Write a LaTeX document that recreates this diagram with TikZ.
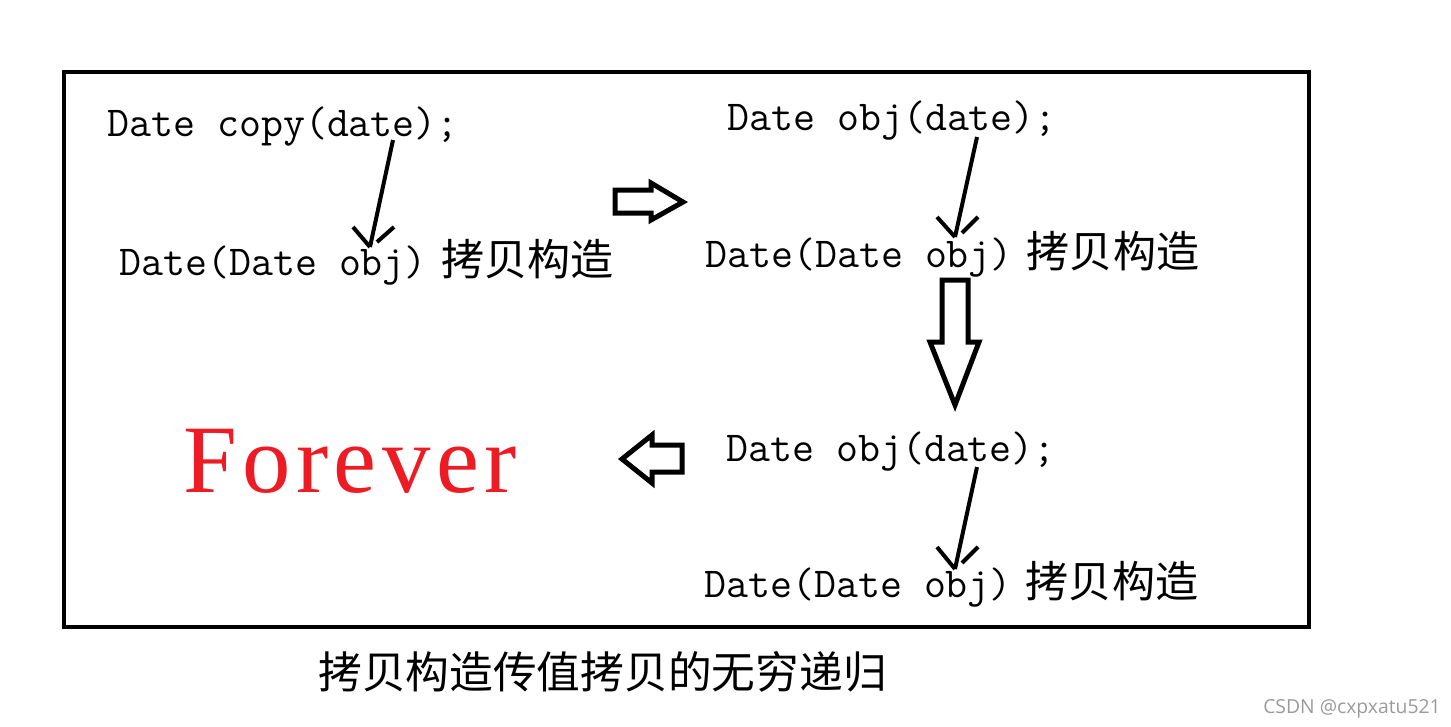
\documentclass[tikz,border=0pt]{standalone}
\usepackage{fontspec}
\newfontfamily\cjk{Noto Sans CJK SC}
\newfontfamily\wmfont{Open Sans}
\newfontfamily\forfont[LetterSpace=5.7]{Liberation Serif}
\definecolor{foreverred}{HTML}{ED1C24}
\definecolor{wmgray}{HTML}{9A9A9A}
\newcommand{\zhtext}[1]{{\cjk\fontsize{32.3}{34}\selectfont #1}}
\begin{document}
\begin{tikzpicture}[x=0.75pt,y=-0.75pt,
  code/.style={font=\ttfamily\fontsize{32}{34}\selectfont, anchor=base west, inner sep=0pt},
  thinarrow/.style={line width=3pt},
  blockarrow/.style={line width=3.75pt, line join=miter},
  frame/.style={line width=3pt}]
\useasboundingbox (0,0) rectangle (1451,726);
\draw[frame] (64,72) rectangle (1309,627);

% texts
\node[code] (t1) at (107,136) {Date copy(date);};
\node[code] (t2) at (119,275) {Date(Date obj)\hspace{11pt}\zhtext{拷贝构造}};
\node[code] (t3) at (727,130) {Date obj(date);};
\node[code] (t4) at (705,267) {Date(Date obj)\hspace{10.5pt}\zhtext{拷贝构造}};
\node[code] (t5) at (726,461) {Date obj(date);};
\node[code] (t6) at (704,597) {Date(Date obj)\hspace{10.5pt}\zhtext{拷贝构造}};
\node[anchor=base west, inner sep=0pt, text=foreverred, font=\forfont\fontsize{72.5}{74}\selectfont] (fv) at (183,492) {Forever};
\node[anchor=west, inner sep=0pt] (cap) at (318,672) {{\cjk\fontsize{32.8}{34}\selectfont 拷贝构造传值拷贝的无穷递归}};
\node[anchor=base west, inner sep=0pt, text=wmgray, font=\wmfont\fontsize{14.5}{16}\selectfont] (wm) at (1263,713) {CSDN @cxpxatu521};

% thin hand-drawn arrows
\coordinate (a1s) at (393,140);
\coordinate (a1e) at (370,247);
\coordinate (a2s) at (977,137);
\coordinate (a2e) at (955,237);
\coordinate (a3s) at (977,467);
\coordinate (a3e) at (955,569);
\draw[thinarrow] (a1s) -- (a1e);
\draw[thinarrow] (353,227) -- (a1e);
\draw[thinarrow] (394,227) -- (377,242);
\draw[thinarrow] (a2s) -- (a2e);
\draw[thinarrow] (937,217) -- (a2e);
\draw[thinarrow] (978,217) -- (962,233);
\draw[thinarrow] (a3s) -- (a3e);
\draw[thinarrow] (937,547) -- (a3e);
\draw[thinarrow] (978,547) -- (962,563);

% block arrows
\draw[blockarrow] (615,190) -- (651,190) -- (651,183) -- (683,202) -- (651,220) -- (651,213) -- (615,213) -- cycle;
\draw[blockarrow] (942,280) -- (968,280) -- (968,342) -- (979,342) -- (955,405) -- (930,342) -- (942,342) -- cycle;
\draw[blockarrow] (682,445) -- (652,445) -- (652,435) -- (622,459) -- (652,483) -- (652,472) -- (682,472) -- cycle;
\end{tikzpicture}
\end{document}
